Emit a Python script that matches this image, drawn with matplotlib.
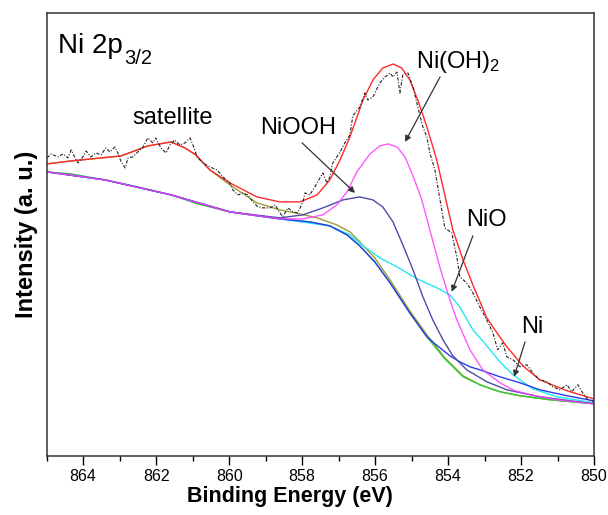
import matplotlib
matplotlib.use("Agg")
from matplotlib import pyplot as plt

plt.rcParams['font.family'] = ['Liberation Sans', 'DejaVu Sans']
plt.rcParams['mathtext.default'] = 'regular'

"""
Ni 2p3/2 XPS spectrum with fitted components (values read off the figure)
"""

# raw spectrum (dash-dot)
raw_ev = [864.99, 864.88, 864.69, 864.55, 864.42, 864.33, 864.22, 864.14, 864.01, 863.92,
          863.79, 863.65, 863.51, 863.38, 863.27, 863.13, 863.05, 862.96, 862.85, 862.77,
          862.64, 862.50, 862.36, 862.23, 862.09, 862.01, 861.87, 861.73, 861.62, 861.49,
          861.35, 861.21, 861.07, 860.94, 860.88, 860.72, 860.53, 860.33, 860.17, 859.98,
          859.90, 859.76, 859.62, 859.49, 859.35, 859.21, 859.07, 858.88, 858.74, 858.66,
          858.53, 858.39, 858.25, 858.12, 857.98, 857.92, 857.79, 857.65, 857.51, 857.43,
          857.32, 857.24, 857.16, 857.05, 856.96, 856.83, 856.69, 856.61, 856.42, 856.28,
          856.20, 856.06, 855.87, 855.73, 855.59, 855.51, 855.40, 855.32, 855.24, 855.10,
          854.96, 854.83, 854.69, 854.58, 854.50, 854.36, 854.22, 854.09, 853.90, 853.76,
          853.68, 853.49, 853.32, 853.13, 852.94, 852.77, 852.64, 852.50, 852.39, 852.22,
          852.03, 851.84, 851.68, 851.49, 851.29, 851.13, 850.94, 850.74, 850.61, 850.44,
          850.31, 850.17, 850.03]
raw_int = [298, 302, 299, 302, 298, 306, 298, 293, 299, 305,
           299, 303, 301, 308, 304, 309, 303, 294, 288, 298,
           299, 304, 309, 318, 313, 318, 308, 303, 311, 316,
           311, 313, 318, 306, 299, 293, 289, 286, 279, 273,
           266, 261, 263, 261, 254, 249, 248, 248, 251, 246,
           239, 248, 244, 243, 254, 263, 261, 269, 278, 283,
           273, 279, 293, 299, 304, 313, 321, 340, 349, 363,
           356, 359, 373, 379, 383, 379, 384, 363, 381, 383,
           369, 349, 329, 319, 303, 286, 256, 228, 223, 199,
           179, 173, 163, 149, 136, 123, 106, 113, 99, 96,
           89, 91, 83, 76, 74, 69, 66, 71, 64, 71,
           63, 56, 54]

# envelope (red)
env_ev = [865.0, 864.33, 862.96, 862.23, 861.59, 861.21, 860.91, 860.53, 859.98, 859.24,
          858.61, 858.06, 857.59, 857.24, 856.96, 856.69, 856.33, 856.06, 855.79, 855.51,
          855.27, 855.05, 854.83, 854.58, 854.31, 854.09, 853.87, 853.59, 853.32, 852.94,
          852.66, 852.39, 851.95, 851.49, 850.74, 850.01]
env_int = [292, 295, 300, 310, 314, 308, 301, 286, 273, 259,
           254, 254, 261, 276, 296, 319, 356, 376, 388, 392,
           388, 376, 356, 329, 296, 261, 226, 196, 171, 138,
           123, 109, 90, 76, 65, 57]

# satellite + background (olive)
sat_ev = [865.0, 864.33, 862.96, 862.23, 861.59, 861.21, 860.91, 860.53, 859.98, 859.24,
          858.61, 858.06, 857.59, 857.05, 856.69, 856.42, 856.01, 855.59, 855.05, 854.58,
          854.09, 853.59, 853.13, 852.58, 852.03, 851.21, 850.01]
sat_int = [292, 295, 300, 310, 314, 308, 301, 286, 271, 253,
           246, 242, 238, 231, 224, 214, 198, 176, 145, 121,
           98, 80, 71, 64, 60, 56, 52]

# background (green)
bg_ev = [864.99, 864.33, 863.40, 862.50, 861.59, 860.86, 859.98, 859.24, 858.61, 857.79,
         857.24, 856.77, 856.42, 856.01, 855.59, 855.05, 854.58, 854.09, 853.59, 853.13,
         852.58, 852.03, 851.21, 850.01]
bg_int = [284, 282, 276, 269, 261, 252, 244, 240, 237, 234,
          230, 221, 210, 194, 173, 143, 119, 97, 79, 71,
          64, 60, 56, 52]

# NiO (cyan)
nio_ev = [864.99, 863.40, 861.59, 859.98, 858.61, 857.24, 856.69, 856.33, 855.87, 855.40,
          854.85, 854.31, 853.95, 853.68, 853.32, 852.94, 852.58, 852.22, 851.68, 851.02,
          850.01]
nio_int = [284, 276, 261, 244, 237, 230, 221, 210, 198, 189,
           177, 168, 161, 149, 126, 110, 94, 81, 67, 59,
           53]

# Ni metal (blue)
ni_ev = [864.99, 863.40, 861.59, 859.98, 858.61, 857.79, 857.24, 856.77, 856.42, 856.01,
         855.59, 855.05, 854.58, 854.36, 854.22, 853.95, 853.68, 853.40, 853.13, 852.58,
         852.03, 851.49, 850.74, 850.01]
ni_int = [284, 276, 261, 244, 237, 234, 230, 221, 210, 194,
          173, 143, 119, 112, 108, 100, 94, 89, 86, 79,
          73, 66, 60, 55]

# NiOOH (slate blue)
niooh_ev = [864.99, 863.40, 861.59, 859.98, 858.61, 857.98, 857.43, 856.88, 856.42, 856.06,
            855.79, 855.51, 855.24, 854.96, 854.69, 854.42, 854.14, 853.87, 853.49, 852.94,
            852.39, 851.49, 850.01]
niooh_int = [284, 276, 261, 244, 238, 241, 248, 256, 259, 256,
             249, 234, 211, 186, 159, 136, 116, 100, 86, 74,
             66, 59, 52]

# Ni(OH)2 (magenta)
nioh_ev = [864.99, 863.40, 861.59, 859.98, 858.61, 857.98, 857.43, 857.05, 856.77, 856.50,
           856.14, 855.87, 855.65, 855.40, 855.18, 854.96, 854.72, 854.50, 854.22, 853.95,
           853.76, 853.40, 853.05, 852.58, 852.17, 851.62, 851.02, 850.01]
nioh_int = [284, 276, 261, 244, 237, 237, 241, 251, 264, 284,
            302, 310, 312, 309, 299, 280, 256, 226, 188, 156,
            136, 106, 86, 73, 65, 60, 56, 52]

fig = plt.figure(figsize=(6.08, 5.15), dpi=100)
ax = fig.add_axes([0.0768, 0.1151, 0.9002, 0.8596])

lw = 1.0
ax.plot(sat_ev, sat_int, color='#9c9c3a', lw=lw)
ax.plot(bg_ev, bg_int, color='#33cc33', lw=lw)
ax.plot(nio_ev, nio_int, color='#22e8f0', lw=lw)
ax.plot(ni_ev, ni_int, color='#2a3cf0', lw=lw)
ax.plot(niooh_ev, niooh_int, color='#4d4da8', lw=lw)
ax.plot(nioh_ev, nioh_int, color='#ff3cff', lw=lw, alpha=0.85)
ax.plot(env_ev, env_int, color='#ff2a2a', lw=lw)
ax.plot(raw_ev, raw_int, color='#222222', lw=0.8, linestyle=(0, (3, 1.5, 1, 1.5)))

ax.set_xlim(865, 850)
ax.set_ylim(0, 443)
ax.set_xticks([864, 862, 860, 858, 856, 854, 852, 850])
ax.set_xticks([865, 863, 861, 859, 857, 855, 853, 851], minor=True)
ax.set_yticks([])
ax.tick_params(axis='x', which='major', direction='out', length=6.5, width=1.0,
               labelsize=11.5, pad=3, top=False)
ax.tick_params(axis='x', which='minor', direction='out', length=3.5, width=1.0, top=False)
for s in ax.spines.values():
    s.set_linewidth(1.1)
    s.set_color('#333333')

ax.set_xlabel('Binding Energy (eV)', fontsize=15.5, fontweight='bold')
ax.xaxis.set_label_coords(0.445, -0.068)
ax.set_ylabel('Intensity (a. u.)', fontsize=17, fontweight='bold')
ax.yaxis.set_label_coords(-0.015, 0.5)

# title with a larger-than-mathtext subscript
ax.text(0.021, 0.9097, 'Ni 2p', transform=ax.transAxes, fontsize=20,
        ha='left', va='baseline')
ax.text(0.141, 0.8848, '3/2', transform=ax.transAxes, fontsize=14.5,
        ha='left', va='baseline')

ax.text(861.54, 338, 'satellite', fontsize=17, ha='center', va='center')
ax.text(858.11, 328, 'NiOOH', fontsize=17, ha='center', va='center')
ax.text(853.73, 394, r'Ni(OH)$_2$', fontsize=17, ha='center', va='center')
ax.text(852.96, 236, 'NiO', fontsize=17, ha='center', va='center')
ax.text(851.70, 129, 'Ni', fontsize=17, ha='center', va='center')

arrow = dict(arrowstyle='-|>', color='#333333', lw=0.9, mutation_scale=9,
             shrinkA=0, shrinkB=0)
ax.annotate('', xy=(856.55, 263), xytext=(858.0, 313), arrowprops=arrow)
ax.annotate('', xy=(855.18, 314), xytext=(854.22, 379), arrowprops=arrow)
ax.annotate('', xy=(853.90, 164), xytext=(853.32, 220), arrowprops=arrow)
ax.annotate('', xy=(852.19, 79), xytext=(851.89, 114), arrowprops=arrow)

fig.savefig('out.png', dpi=100)
